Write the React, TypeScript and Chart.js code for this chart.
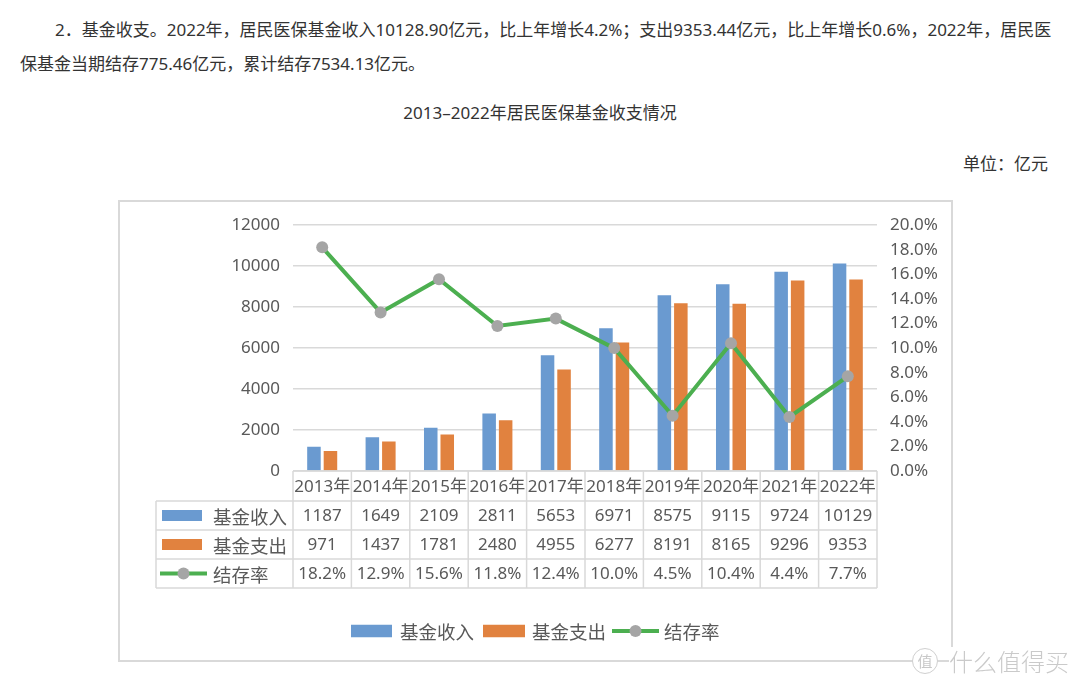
import React, { useEffect, useRef } from 'react';
import { Chart, registerables } from 'chart.js';

Chart.register(...registerables);

const years = ['2013年', '2014年', '2015年', '2016年', '2017年', '2018年', '2019年', '2020年', '2021年', '2022年'];
const income = [1187, 1649, 2109, 2811, 5653, 6971, 8575, 9115, 9724, 10129];
const expense = [971, 1437, 1781, 2480, 4955, 6277, 8191, 8165, 9296, 9353];
const ratio = [18.2, 12.9, 15.6, 11.8, 12.4, 10.0, 4.5, 10.4, 4.4, 7.7];
const seriesNames = ['基金收入', '基金支出', '结存率'];

const FONT = '"Noto Sans", "Noto Sans CJK SC", sans-serif';
const CJK = '"Noto Sans CJK SC", "Noto Sans", sans-serif';
const TEXT = '#595959';
const GRID = '#d9d9d9';
const BLUE = '#6A9AD0';
const ORANGE = '#E1823F';
const GREEN = '#4CAF50';
const GRAY = '#A5A5A5';

function drawKey(ctx: CanvasRenderingContext2D, kind: number, x0: number, x1: number, cy: number, h: number) {
  if (kind < 2) {
    ctx.fillStyle = kind === 0 ? BLUE : ORANGE;
    ctx.fillRect(x0, cy - h / 2, x1 - x0, h);
  } else {
    ctx.strokeStyle = GREEN;
    ctx.lineWidth = 4;
    ctx.beginPath();
    ctx.moveTo(x0, cy);
    ctx.lineTo(x1, cy);
    ctx.stroke();
    ctx.fillStyle = GRAY;
    ctx.beginPath();
    ctx.arc((x0 + x1) / 2, cy, 6, 0, Math.PI * 2);
    ctx.fill();
  }
}

const tablePlugin = {
  id: 'dataTable',
  afterDraw(chart: any) {
    const ctx: CanvasRenderingContext2D = chart.ctx;
    const ca = chart.chartArea;
    const xs = chart.scales.x;
    const n = years.length;
    const step = (ca.right - ca.left) / n;
    const left = 36;
    const rows = [ca.bottom, ca.bottom + 30, ca.bottom + 59, ca.bottom + 88, ca.bottom + 117];
    ctx.save();
    ctx.strokeStyle = GRID;
    ctx.lineWidth = 1.5;
    const line = (a: number, b: number, c: number, d: number) => {
      ctx.beginPath();
      ctx.moveTo(a, b);
      ctx.lineTo(c, d);
      ctx.stroke();
    };
    line(ca.left, rows[0], ca.right, rows[0]);
    for (let r = 1; r < rows.length; r++) line(left, rows[r], ca.right, rows[r]);
    line(left, rows[1], left, rows[4]);
    for (let i = 0; i <= n; i++) {
      const xe = ca.left + i * step;
      line(xe, rows[0], xe, rows[4]);
    }
    ctx.fillStyle = TEXT;
    ctx.textAlign = 'center';
    ctx.textBaseline = 'middle';
    ctx.font = `17px ${FONT}`;
    const mid = (r: number) => (rows[r] + rows[r + 1]) / 2 + 1;
    for (let i = 0; i < n; i++) {
      const cx = xs.getPixelForValue(i);
      ctx.fillText(years[i], cx, mid(0));
      ctx.fillText(String(income[i]), cx, mid(1));
      ctx.fillText(String(expense[i]), cx, mid(2));
      ctx.fillText(ratio[i].toFixed(1) + '%', cx, mid(3));
    }
    for (let k = 0; k < 3; k++) {
      const cy = mid(k + 1);
      if (k < 2) drawKey(ctx, k, 42, 82, cy - 1, 11);
      else drawKey(ctx, k, 40, 87, cy - 1, 0);
      ctx.fillStyle = TEXT;
      ctx.textAlign = 'left';
      ctx.font = `18.5px ${CJK}`;
      ctx.fillText(seriesNames[k], 93, cy);
    }
    const ly = 429;
    const keys = [
      [231, 272, 280],
      [363, 405, 412],
      [492, 539, 544],
    ];
    for (let k = 0; k < 3; k++) {
      drawKey(ctx, k, keys[k][0], keys[k][1], ly, 12.5);
      ctx.fillStyle = TEXT;
      ctx.textAlign = 'left';
      ctx.font = `18.5px ${CJK}`;
      ctx.fillText(seriesNames[k], keys[k][2], ly + 1);
    }
    ctx.restore();
  },
};

export default function App() {
  const ref = useRef<HTMLCanvasElement | null>(null);
  useEffect(() => {
    if (!ref.current) return;
    const chart = new Chart(ref.current, {
      type: 'bar',
      data: {
        labels: years,
        datasets: [
          {
            type: 'line',
            label: seriesNames[2],
            data: ratio,
            yAxisID: 'y1',
            borderColor: GREEN,
            borderWidth: 4,
            pointRadius: 6,
            pointBackgroundColor: GRAY,
            pointBorderColor: GRAY,
            pointBorderWidth: 0,
            tension: 0,
            order: 0,
          } as any,
          {
            label: seriesNames[0],
            data: income,
            yAxisID: 'y',
            backgroundColor: BLUE,
            categoryPercentage: 0.565,
            barPercentage: 0.82,
            order: 1,
          },
          {
            label: seriesNames[1],
            data: expense,
            yAxisID: 'y',
            backgroundColor: ORANGE,
            categoryPercentage: 0.565,
            barPercentage: 0.82,
            order: 1,
          },
        ],
      },
      options: {
        animation: false,
        responsive: false,
        devicePixelRatio: 1,
        layout: { padding: { top: 22, left: 0, right: 0, bottom: 0 } },
        plugins: { legend: { display: false }, tooltip: { enabled: false }, title: { display: false } },
        scales: {
          x: {
            grid: { display: false },
            border: { display: false },
            ticks: { display: false },
            afterFit: (s: any) => { s.height = 189; },
          },
          y: {
            position: 'left',
            min: 0,
            max: 12000,
            ticks: {
              stepSize: 2000,
              color: TEXT,
              font: { family: FONT, size: 17 },
              padding: 13,
              callback: (v: any) => String(v),
            },
            grid: { color: GRID, lineWidth: 1.5, drawTicks: false },
            border: { display: false },
            afterFit: (s: any) => { s.width = 173; },
          },
          y1: {
            position: 'right',
            min: 0,
            max: 20,
            ticks: {
              stepSize: 2,
              color: TEXT,
              font: { family: FONT, size: 17 },
              padding: 13,
              callback: (v: any) => Number(v).toFixed(1) + '%',
            },
            grid: { display: false, drawTicks: false },
            border: { display: false },
            afterFit: (s: any) => { s.width = 74; },
          },
        },
      } as any,
      plugins: [tablePlugin],
    });
    return () => chart.destroy();
  }, []);

  const abs = (s: React.CSSProperties): React.CSSProperties => ({ position: 'absolute', whiteSpace: 'nowrap', ...s });

  return (
    <div style={{ position: 'absolute', left: 0, top: 0, width: 1080, height: 683, background: '#fff', overflow: 'hidden', fontFamily: FONT, color: '#333' }}>
      <div style={abs({ left: 55, top: 19, fontSize: 17, lineHeight: '22px' })}>
        2．基金收支。2022年，居民医保基金收入10128.90亿元，比上年增长4.2%；支出9353.44亿元，比上年增长0.6%，2022年，居民医
      </div>
      <div style={abs({ left: 20, top: 53, fontSize: 17, lineHeight: '22px' })}>
        保基金当期结存775.46亿元，累计结存7534.13亿元。
      </div>
      <div style={abs({ left: 0, width: 1080, textAlign: 'center', top: 102, fontSize: 17, lineHeight: '22px' })}>
        2013–2022年居民医保基金收支情况
      </div>
      <div style={abs({ right: 32, top: 153, fontSize: 17, lineHeight: '22px' })}>单位：亿元</div>
      <div style={abs({ left: 118, top: 200, width: 835, height: 462, border: '2px solid #d9d9d9', boxSizing: 'border-box' })} />
      <canvas ref={ref} width={831} height={458} style={{ position: 'absolute', left: 120, top: 202, width: 831, height: 458 }} />
      <div style={abs({ left: 912, top: 648, width: 26, height: 26, borderRadius: 13, border: '1.5px solid #cfcfcf', background: '#fff', boxSizing: 'border-box', color: '#c8c8c8', fontSize: 15, lineHeight: '23px', textAlign: 'center', fontFamily: CJK })}>值</div>
      <div style={abs({ left: 949, top: 647, height: 28, background: '#fff', color: '#cacaca', fontSize: 24, lineHeight: '28px', fontFamily: CJK, fontWeight: 300 })}>什么值得买</div>
    </div>
  );
}
